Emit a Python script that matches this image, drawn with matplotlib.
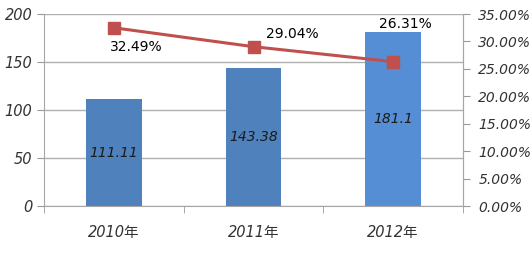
import numpy as np
import matplotlib.pyplot as plt

years = ['2010年', '2011年', '2012年']
values = [111.11, 143.38, 181.1]
ratios = [32.49, 29.04, 26.31]
bar_colors = ['#4F81BD', '#4F81BD', '#558ED5']

plt.rcParams['font.family'] = ['DejaVu Sans', 'Noto Sans CJK SC']

fig = plt.figure(figsize=(5.32, 2.54), dpi=100)
ax = fig.add_axes([44 / 532, 1 - 206 / 254, (463 - 44) / 532, 192 / 254])
x = np.arange(len(years))

ax.bar(x, values, width=0.4, color=bar_colors, zorder=2)
for xi, v in zip(x, values):
    ax.text(xi, v / 2, f'{v:g}', ha='center', va='center', fontsize=10,
            style='italic', color='#1a1a1a', zorder=3)

ax.set_xlim(-0.5, 2.5)
ax.set_ylim(0, 200)
ax.set_yticks(range(0, 201, 50))
ax.set_xticks(x)
ax.set_xticklabels(years, style='italic', fontsize=10.5, color='#333333')
ax.set_xticks([-0.5, 0.5, 1.5, 2.5], minor=True)
ax.tick_params(axis='x', which='major', length=0, pad=14)
ax.tick_params(axis='x', which='minor', length=5, color='#999999')
ax.tick_params(axis='y', length=5, color='#999999', labelsize=10.5, labelcolor='#333333')
for lab in ax.get_yticklabels():
    lab.set_style('italic')
ax.yaxis.grid(True, color='#b0b0b0', linewidth=1, zorder=0)
ax.set_axisbelow(True)
ax.spines['top'].set_visible(False)
for s in ['left', 'bottom', 'right']:
    ax.spines[s].set_color('#a6a6a6')

ax2 = ax.twinx()
ax2.plot(x, ratios, color='#C0504D', linewidth=2.2, marker='s', markersize=8,
         markerfacecolor='#C0504D', markeredgecolor='#C0504D', zorder=4)
ax2.set_ylim(0, 35)
ax2.set_yticks(np.arange(0, 35.1, 5))
ax2.set_yticklabels([f'{t:.2f}%' for t in np.arange(0, 35.1, 5)], style='italic')
ax2.tick_params(axis='y', length=5, pad=6, color='#999999', labelsize=10,
                labelcolor='#333333')
for s in ['top', 'left', 'bottom']:
    ax2.spines[s].set_visible(False)
ax2.spines['right'].set_color('#a6a6a6')

offsets = [(16, -14), (28, 9), (9, 27)]
for xi, r, (dx, dy) in zip(x, ratios, offsets):
    ax2.annotate(f'{r:.2f}%', (xi, r), xytext=(dx, dy), textcoords='offset points',
                 ha='center', va='center', fontsize=10, color='black')

fig.savefig('out.png', dpi=100)
